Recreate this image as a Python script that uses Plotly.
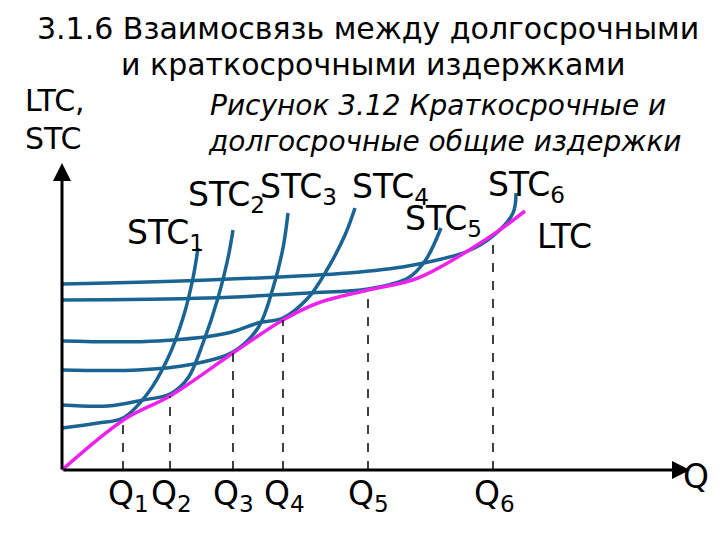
import plotly.graph_objects as go

# Curves in chart coordinates (x: output, y: cost drawn top-down in pixel-like units)
ltc_x = [54, 117, 162, 225, 275, 310, 360, 410, 480, 517]
ltc_y = [462, 411, 388, 345, 312, 295, 282, 270, 230, 203]

stc1_x = [54, 90, 115, 140, 160, 175, 185, 190]
stc1_y = [420, 415, 410, 385, 350, 310, 270, 240]
stc2_x = [54, 100, 135, 162, 180, 195, 210, 220, 225]
stc2_y = [397, 398, 392, 386, 370, 335, 290, 250, 222]
stc3_x = [54, 130, 180, 225, 250, 265, 275, 280]
stc3_y = [362, 362, 357, 344, 320, 280, 240, 205]
stc4_x = [54, 150, 220, 250, 275, 300, 320, 337, 347]
stc4_y = [333, 333, 325, 315, 310, 290, 260, 227, 200]
stc5_x = [54, 200, 300, 360, 400, 417, 433]
stc5_y = [292, 290, 285, 281, 270, 253, 220]
stc6_x = [54, 200, 340, 400, 460, 485, 505, 508]
stc6_y = [276, 272, 265, 258, 243, 228, 205, 185]

q_x = [115, 162, 225, 275, 360, 485]
q_top = [410, 388, 345, 312, 282, 228]
q_labels = ["Q<sub>1</sub>", "Q<sub>2</sub>", "Q<sub>3</sub>", "Q<sub>4</sub>", "Q<sub>5</sub>", "Q<sub>6</sub>"]
q_label_x = [120, 163, 225, 276, 360, 486]

stc_labels = ["STC<sub>1</sub>", "STC<sub>2</sub>", "STC<sub>3</sub>", "STC<sub>4</sub>", "STC<sub>5</sub>", "STC<sub>6</sub>"]
stc_label_x = [157, 218, 290, 382, 435, 518]
stc_label_y = [226, 188, 180, 180, 212, 178]

blue = "#1a6494"
fig = go.Figure()
for xs, ys in [(stc1_x, stc1_y), (stc2_x, stc2_y), (stc3_x, stc3_y),
               (stc4_x, stc4_y), (stc5_x, stc5_y), (stc6_x, stc6_y)]:
    fig.add_trace(go.Scatter(x=xs, y=ys, mode="lines", line=dict(color=blue, width=3.5, shape="spline"), hoverinfo="skip"))
fig.add_trace(go.Scatter(x=ltc_x, y=ltc_y, mode="lines", line=dict(color="#ee22ee", width=3.5, shape="spline"), hoverinfo="skip"))
for qx, qt in zip(q_x, q_top):
    fig.add_trace(go.Scatter(x=[qx, qx], y=[462, qt], mode="lines", line=dict(color="black", width=1.5, dash="dash"), hoverinfo="skip"))

F = "DejaVu Sans"
ann = []
ann.append(dict(x=682, y=462, ax=54, ay=462, xref="x", yref="y", axref="x", ayref="y", showarrow=True, arrowhead=2, arrowsize=1.2, arrowwidth=3, arrowcolor="black", text=""))
ann.append(dict(x=54, y=155, ax=54, ay=463, xref="x", yref="y", axref="x", ayref="y", showarrow=True, arrowhead=2, arrowsize=1.2, arrowwidth=3, arrowcolor="black", text=""))
for t, x in zip(q_labels, q_label_x):
    ann.append(dict(x=x, y=487, text=t, showarrow=False, font=dict(family=F, size=33, color="black")))
ann.append(dict(x=688, y=468, text="Q", showarrow=False, font=dict(family=F, size=33, color="black")))
for t, x, y in zip(stc_labels, stc_label_x, stc_label_y):
    ann.append(dict(x=x, y=y, text=t, showarrow=False, font=dict(family=F, size=33, color="black")))
ann.append(dict(x=556, y=228, text="LTC", showarrow=False, font=dict(family=F, size=33, color="black")))
ann.append(dict(x=360, y=20, text="3.1.6 Взаимосвязь между долгосрочными", showarrow=False, font=dict(family=F, size=30, color="black")))
ann.append(dict(x=365, y=56, text="и краткосрочными издержками", showarrow=False, font=dict(family=F, size=30, color="black")))
ann.append(dict(x=15, y=92, text="LTC,", xanchor="left", showarrow=False, font=dict(family=F, size=30, color="black")))
ann.append(dict(x=15, y=130, text="STC", xanchor="left", showarrow=False, font=dict(family=F, size=30, color="black")))
ann.append(dict(x=430, y=97, text="<i>Рисунок 3.12 Краткосрочные и</i>", showarrow=False, font=dict(family=F, size=28, color="black")))
ann.append(dict(x=437, y=133, text="<i>долгосрочные общие издержки</i>", showarrow=False, font=dict(family=F, size=28, color="black")))

fig.update_layout(width=720, height=540, autosize=False,
                  margin=dict(l=0, r=0, t=0, b=0, pad=0, autoexpand=False),
                  paper_bgcolor="white", plot_bgcolor="white", showlegend=False,
                  xaxis=dict(range=[0, 720], visible=False, fixedrange=True),
                  yaxis=dict(range=[540, 0], visible=False, fixedrange=True),
                  annotations=ann)
fig.write_html("out.html")
